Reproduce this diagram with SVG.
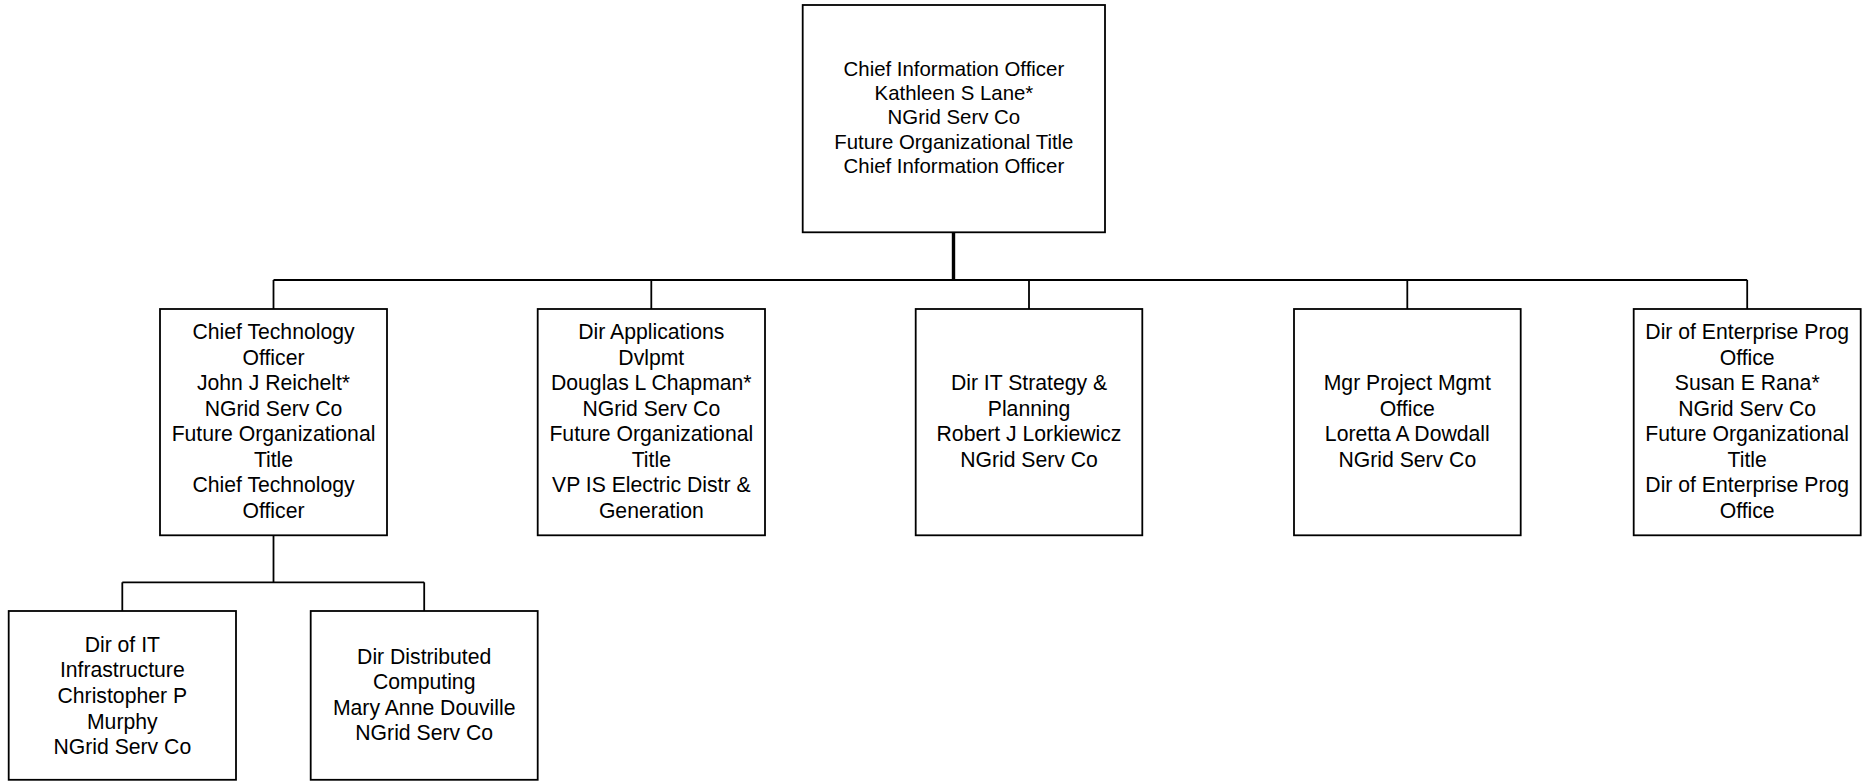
<svg xmlns="http://www.w3.org/2000/svg" width="1874" height="781" viewBox="0 0 1874 781">
<style>
.box{fill:#fff;stroke:#000;stroke-width:1.8}
.ln{fill:none;stroke:#000;stroke-width:1.8}
.trunk{fill:none;stroke:#000;stroke-width:3.4}
text{font-family:"Liberation Sans",Arial,sans-serif;font-size:21.2px;fill:#000;text-anchor:middle}
.top text{font-size:20.4px}
</style>
<rect width="1874" height="781" fill="#fff"/>
<g id="connectors">
<line class="trunk" x1="953.5" y1="232" x2="953.5" y2="280"/>
<line class="ln" x1="273.5" y1="280" x2="1747.2" y2="280"/>
<line class="ln" x1="273.5" y1="280" x2="273.5" y2="309"/>
<line class="ln" x1="651.3" y1="280" x2="651.3" y2="309"/>
<line class="ln" x1="1029" y1="280" x2="1029" y2="309"/>
<line class="ln" x1="1407.3" y1="280" x2="1407.3" y2="309"/>
<line class="ln" x1="1747.2" y1="280" x2="1747.2" y2="309"/>
<line class="ln" x1="273.5" y1="535" x2="273.5" y2="582.3"/>
<line class="ln" x1="122.3" y1="582.3" x2="424.2" y2="582.3"/>
<line class="ln" x1="122.3" y1="582.3" x2="122.3" y2="611"/>
<line class="ln" x1="424.2" y1="582.3" x2="424.2" y2="611"/>
</g>
<g id="cio" class="top">
<rect class="box" x="802.7" y="5" width="302.3" height="227.3"/>
<text x="953.9" y="76">Chief Information Officer</text>
<text x="953.9" y="100.2">Kathleen S Lane*</text>
<text x="953.9" y="124.4">NGrid Serv Co</text>
<text x="953.9" y="148.6">Future Organizational Title</text>
<text x="953.9" y="172.8">Chief Information Officer</text>
</g>
<g id="cto">
<rect class="box" x="160" y="309" width="227" height="226.3"/>
<text x="273.5" y="339">Chief Technology</text>
<text x="273.5" y="364.5">Officer</text>
<text x="273.5" y="390">John J Reichelt*</text>
<text x="273.5" y="415.5">NGrid Serv Co</text>
<text x="273.5" y="441">Future Organizational</text>
<text x="273.5" y="466.5">Title</text>
<text x="273.5" y="492">Chief Technology</text>
<text x="273.5" y="517.5">Officer</text>
</g>
<g id="apps">
<rect class="box" x="537.7" y="309" width="227.3" height="226.3"/>
<text x="651.3" y="339">Dir Applications</text>
<text x="651.3" y="364.5">Dvlpmt</text>
<text x="651.3" y="390">Douglas L Chapman*</text>
<text x="651.3" y="415.5">NGrid Serv Co</text>
<text x="651.3" y="441">Future Organizational</text>
<text x="651.3" y="466.5">Title</text>
<text x="651.3" y="492">VP IS Electric Distr &amp;</text>
<text x="651.3" y="517.5">Generation</text>
</g>
<g id="strategy">
<rect class="box" x="915.7" y="309" width="226.6" height="226.3"/>
<text x="1029" y="390">Dir IT Strategy &amp;</text>
<text x="1029" y="415.5">Planning</text>
<text x="1029" y="441">Robert J Lorkiewicz</text>
<text x="1029" y="466.5">NGrid Serv Co</text>
</g>
<g id="pmo">
<rect class="box" x="1294" y="309" width="226.7" height="226.3"/>
<text x="1407.3" y="390">Mgr Project Mgmt</text>
<text x="1407.3" y="415.5">Office</text>
<text x="1407.3" y="441">Loretta A Dowdall</text>
<text x="1407.3" y="466.5">NGrid Serv Co</text>
</g>
<g id="epo">
<rect class="box" x="1633.7" y="309" width="227" height="226.3"/>
<text x="1747.2" y="339">Dir of Enterprise Prog</text>
<text x="1747.2" y="364.5">Office</text>
<text x="1747.2" y="390">Susan E Rana*</text>
<text x="1747.2" y="415.5">NGrid Serv Co</text>
<text x="1747.2" y="441">Future Organizational</text>
<text x="1747.2" y="466.5">Title</text>
<text x="1747.2" y="492">Dir of Enterprise Prog</text>
<text x="1747.2" y="517.5">Office</text>
</g>
<g id="infra">
<rect class="box" x="8.7" y="611" width="227.3" height="168.8"/>
<text x="122.3" y="651.7">Dir of IT</text>
<text x="122.3" y="677.3">Infrastructure</text>
<text x="122.3" y="702.9">Christopher P</text>
<text x="122.3" y="728.5">Murphy</text>
<text x="122.3" y="754.1">NGrid Serv Co</text>
</g>
<g id="distributed">
<rect class="box" x="310.7" y="611" width="227" height="168.8"/>
<text x="424.2" y="664">Dir Distributed</text>
<text x="424.2" y="689.4">Computing</text>
<text x="424.2" y="714.8">Mary Anne Douville</text>
<text x="424.2" y="740.2">NGrid Serv Co</text>
</g>
</svg>
